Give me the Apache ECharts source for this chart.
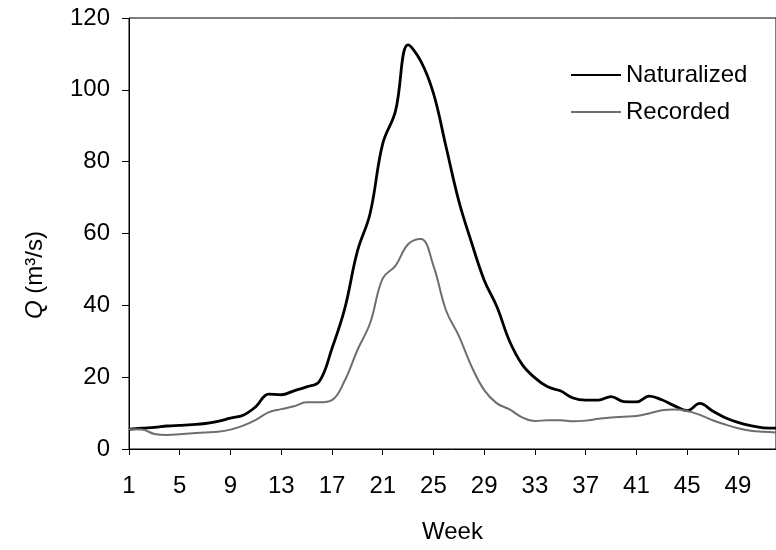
<!DOCTYPE html>
<html>
<head>
<meta charset="utf-8">
<script src="https://cdn.jsdelivr.net/npm/echarts@6/dist/echarts.min.js"></script>
<style>html,body{margin:0;padding:0;background:#fff}#c{width:776px;height:550px}</style>
</head>
<body>
<div id="c"></div>
<script>
const weeks = ['1','2','3','4','5','6','7','8','9','10','11','12','13','14','15','16','17','18','19','20','21','22','23','24','25','26','27','28','29','30','31','32','33','34','35','36','37','38','39','40','41','42','43','44','45','46','47','48','49','50','51','52'];
const naturalized = [5.5,5.8,6.0,6.4,6.6,6.8,7.1,7.7,8.6,9.4,11.8,15.3,15.1,16.2,17.3,18.8,28,39,55,65.5,85,94,112.5,108,99,84,69,57.5,47,39.6,30,23.5,19.8,17.3,16.2,14.2,13.6,13.6,14.6,13.2,13.1,14.7,13.7,12.0,10.7,12.7,10.6,8.7,7.4,6.5,5.9,5.8];
const recorded = [5.5,5.4,4.2,3.9,4.1,4.4,4.6,4.8,5.4,6.5,8.1,10.2,11.1,11.9,13.0,13.0,13.6,19,27.5,35,47.5,51,57,58.5,51,38.5,31.5,23,16.4,12.7,11,8.8,7.8,8,8,7.7,7.9,8.4,8.8,9,9.2,9.9,10.8,11,10.6,9.5,8.0,6.8,5.8,5.1,4.8,4.6];
const yTicks = {min: 0, max: 120, interval: 20};

const font = "'Liberation Sans', Arial, sans-serif";
const fs = 24;
const chart = echarts.init(document.getElementById('c'), null, {renderer: 'canvas'});
chart.setOption({
  animation: false,
  backgroundColor: '#fff',
  textStyle: {fontFamily: font, color: '#000'},
  grid: {left: 129, top: 18, right: 0, bottom: 101, show: true, borderColor: '#000', borderWidth: 1},
  legend: {
    orient: 'vertical', left: 565, top: 58, itemWidth: 50, itemHeight: 14, itemGap: 13,
    itemStyle: {opacity: 0},
    textStyle: {fontFamily: font, fontSize: fs, color: '#000'},
    data: ['Naturalized', 'Recorded']
  },
  xAxis: {
    type: 'category', data: weeks, boundaryGap: false,
    name: 'Week', nameLocation: 'middle', nameGap: 71,
    nameTextStyle: {fontFamily: font, fontSize: fs, color: '#000'},
    axisLine: {lineStyle: {color: '#000', width: 1}},
    axisTick: {interval: 3, length: 6, lineStyle: {color: '#000'}},
    axisLabel: {interval: 3, margin: 25, fontFamily: font, fontSize: fs, color: '#000'},
    splitLine: {show: false}
  },
  yAxis: {
    type: 'value', min: yTicks.min, max: yTicks.max, interval: yTicks.interval,
    name: '{i|Q} (m³/s)', nameLocation: 'middle', nameRotate: 90, nameGap: 82,
    nameTextStyle: {fontFamily: font, fontSize: fs, color: '#000', padding: [0, 83, 0, 0],
      rich: {i: {fontFamily: font, fontSize: fs, fontStyle: 'italic', color: '#000'}}},
    axisLine: {show: true, lineStyle: {color: '#000', width: 1}},
    axisTick: {show: true, length: 7, lineStyle: {color: '#000'}},
    axisLabel: {margin: 19, fontFamily: font, fontSize: fs, color: '#000'},
    splitLine: {show: false}
  },
  series: [
    {name: 'Naturalized', type: 'line', data: naturalized, symbol: 'none', smooth: 0.4,
     lineStyle: {color: '#000', width: 2.8}, itemStyle: {color: '#000'}},
    {name: 'Recorded', type: 'line', data: recorded, symbol: 'none', smooth: 0.4,
     lineStyle: {color: '#6e6e6e', width: 2}, itemStyle: {color: '#6e6e6e'}}
  ]
});
</script>
</body>
</html>
